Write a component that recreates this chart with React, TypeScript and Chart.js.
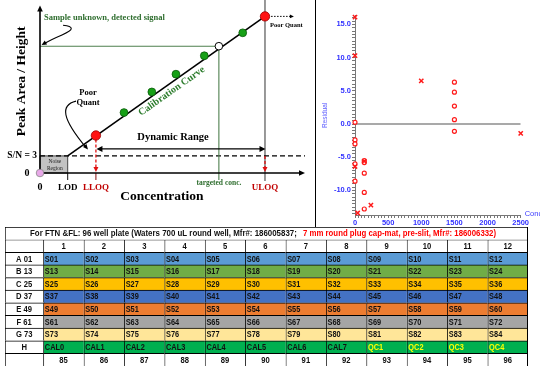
import React, { useEffect, useRef } from 'react';
import { Chart, registerables } from 'chart.js';
Chart.register(...registerables);

// ---------------- Calibration diagram (schematic units 0..100) ----------------
const calConc = [21.1, 31.7, 42.2, 51.3, 62.0, 76.5, 84.9];
const calSignal = [22.4, 36.1, 48.4, 59.0, 70.0, 83.7, 93.5];
const calRole = ['LLOQ', 'cal', 'cal', 'cal', 'cal', 'cal', 'ULOQ'];
const unknownConc = 67.5;
const unknownSignal = 75.7;
const lodConc = 10.45;
const snSignal = 10.2;
const dynRangeSignal = 14.4;

// ---------------- Residual plot ----------------
const residCrossConc = [0, 0, 1000, 2500, 0, 140, 240, 40];
const residCrossVal = [16.1, 10.3, 6.5, -1.4, -6.4, -5.6, -12.2, -13.4];
const residCircleConc = [0, 0, 0, 0, 0, 140, 140, 140, 140, 140, 1500, 1500, 1500, 1500, 1500];
const residCircleVal = [0.25, -2.4, -3.0, -6.0, -8.6, -5.5, -5.8, -7.4, -10.3, -12.8, 6.3, 4.8, 2.7, 0.65, -1.1];
const residXMin = 0;
const residXMax = 2500;
const residYMin = -13.7;
const residYMax = 16.3;
const residYLabelStep = 5;
const residYMinorStep = 0.5;

// ---------------- Plate table ----------------
const plateTitleA = 'For FTN &FL: 96 well plate (Waters 700 uL round well, Mfr#: 186005837; ';
const plateTitleB = '7 mm round plug cap-mat, pre-slit, Mfr#: 186006332)';
const plateColumns = ['1', '2', '3', '4', '5', '6', '7', '8', '9', '10', '11', '12'];
const plateRowLabels = ['A 01', 'B 13', 'C 25', 'D 37', 'E 49', 'F 61', 'G 73', 'H'];
const rowA = ['S01', 'S02', 'S03', 'S04', 'S05', 'S06', 'S07', 'S08', 'S09', 'S10', 'S11', 'S12'];
const rowB = ['S13', 'S14', 'S15', 'S16', 'S17', 'S18', 'S19', 'S20', 'S21', 'S22', 'S23', 'S24'];
const rowC = ['S25', 'S26', 'S27', 'S28', 'S29', 'S30', 'S31', 'S32', 'S33', 'S34', 'S35', 'S36'];
const rowD = ['S37', 'S38', 'S39', 'S40', 'S41', 'S42', 'S43', 'S44', 'S45', 'S46', 'S47', 'S48'];
const rowE = ['S49', 'S50', 'S51', 'S52', 'S53', 'S54', 'S55', 'S56', 'S57', 'S58', 'S59', 'S60'];
const rowF = ['S61', 'S62', 'S63', 'S64', 'S65', 'S66', 'S67', 'S68', 'S69', 'S70', 'S71', 'S72'];
const rowG = ['S73', 'S74', 'S75', 'S76', 'S77', 'S78', 'S79', 'S80', 'S81', 'S82', 'S83', 'S84'];
const rowH = ['CAL0', 'CAL1', 'CAL2', 'CAL3', 'CAL4', 'CAL5', 'CAL6', 'CAL7', 'QC1', 'QC2', 'QC3', 'QC4'];
const plateFooter = ['85', '86', '87', '88', '89', '90', '91', '92', '93', '94', '95', '96'];
const plateRowColors = ['#5b9bd5', '#70ad47', '#ffc000', '#4472c4', '#ed7d31', '#a5a5a5', '#ffe699', '#00b050'];
const plateCells = [rowA, rowB, rowC, rowD, rowE, rowF, rowG, rowH];

const SERIF = '"Liberation Serif", "DejaVu Serif", serif';
const SANS = '"Liberation Sans", Arial, sans-serif';
const f = (size: number, bold = true, fam = SERIF) => `${bold ? 'bold ' : ''}${size}px ${fam}`;

function arrowHead(ctx: any, x: number, y: number, ang: number, len = 6, half = 2.8) {
  ctx.beginPath();
  ctx.moveTo(x, y);
  ctx.lineTo(x - len * Math.cos(ang) + half * Math.sin(ang), y - len * Math.sin(ang) - half * Math.cos(ang));
  ctx.lineTo(x - len * Math.cos(ang) - half * Math.sin(ang), y - len * Math.sin(ang) + half * Math.cos(ang));
  ctx.closePath();
  ctx.fill();
}

function line(ctx: any, x1: number, y1: number, x2: number, y2: number) {
  ctx.beginPath();
  ctx.moveTo(x1, y1);
  ctx.lineTo(x2, y2);
  ctx.stroke();
}

function text(ctx: any, s: string, x: number, y: number, font: string, color: string, align = 'center', rot = 0) {
  ctx.save();
  ctx.translate(x, y);
  if (rot) ctx.rotate(rot);
  ctx.font = font;
  ctx.fillStyle = color;
  ctx.textAlign = align;
  ctx.textBaseline = 'middle';
  ctx.fillText(s, 0, 0);
  ctx.restore();
}

const leftDecor = {
  id: 'leftDecor',
  beforeDatasetsDraw(chart: any) {
    const { ctx, scales } = chart;
    const X = (v: number) => scales.x.getPixelForValue(v);
    const Y = (v: number) => scales.y.getPixelForValue(v);
    const x0 = X(0), y0 = Y(0);
    ctx.save();
    // frame separator
    ctx.strokeStyle = '#000';
    ctx.lineWidth = 1;
    line(ctx, 315.5, 0, 315.5, chart.height);
    // noise region
    ctx.fillStyle = '#c2c2c2';
    ctx.fillRect(x0, Y(snSignal), X(lodConc) - x0, y0 - Y(snSignal));
    ctx.strokeStyle = '#444';
    ctx.strokeRect(x0, Y(snSignal), X(lodConc) - x0, y0 - Y(snSignal));
    text(ctx, 'Noise', X(lodConc / 2) + 1, Y(snSignal) + 5.5, f(5.5, false), '#222');
    text(ctx, 'Region', X(lodConc / 2) + 1, Y(snSignal) + 13, f(5.5, false), '#222');
    // ULOQ vertical line
    ctx.strokeStyle = '#333';
    ctx.lineWidth = 1;
    line(ctx, X(calConc[6]), 0, X(calConc[6]), y0 + 8);
    // S/N dashed line
    ctx.strokeStyle = '#000';
    ctx.lineWidth = 1.3;
    ctx.setLineDash([5, 3]);
    line(ctx, x0, Y(snSignal), X(100), Y(snSignal));
    ctx.setLineDash([]);
    // targeted lines
    ctx.strokeStyle = '#4e7f4e';
    ctx.lineWidth = 1.1;
    line(ctx, x0, Y(unknownSignal), X(unknownConc), Y(unknownSignal));
    line(ctx, X(unknownConc), Y(unknownSignal), X(unknownConc), y0 + 7);
    // ticks below axis
    ctx.strokeStyle = '#111';
    ctx.lineWidth = 1;
    line(ctx, X(lodConc), y0, X(lodConc), y0 + 7);
    ctx.strokeStyle = '#8a1010';
    line(ctx, X(calConc[0]), y0, X(calConc[0]), y0 + 7);
    // red dashed arrows
    ctx.strokeStyle = '#e01010';
    ctx.fillStyle = '#e01010';
    ctx.lineWidth = 1.3;
    ctx.setLineDash([3, 2]);
    line(ctx, X(calConc[0]), Y(calSignal[0]) + 4, X(calConc[0]), y0 - 4);
    line(ctx, X(calConc[6]), Y(snSignal), X(calConc[6]), y0 - 4);
    ctx.setLineDash([]);
    arrowHead(ctx, X(calConc[0]), y0 - 1, Math.PI / 2, 5, 2.5);
    arrowHead(ctx, X(calConc[6]), y0 - 1, Math.PI / 2, 5, 2.5);
    // axes
    ctx.strokeStyle = '#000';
    ctx.fillStyle = '#000';
    ctx.lineWidth = 1.6;
    line(ctx, x0, y0, X(100) - 3, y0);
    line(ctx, x0, y0, x0, Y(100) + 3);
    arrowHead(ctx, X(100), y0, 0, 6, 2.8);
    arrowHead(ctx, x0, Y(100), -Math.PI / 2, 6, 2.8);
    // dynamic range double arrow
    ctx.lineWidth = 1.3;
    const dy = Y(dynRangeSignal);
    line(ctx, X(calConc[0]) + 4, dy, X(calConc[6]) - 4, dy);
    arrowHead(ctx, X(calConc[0]) + 0.5, dy, Math.PI, 6, 3);
    arrowHead(ctx, X(calConc[6]) + 0.5, dy, 0, 6, 3);
    ctx.restore();
  },
  afterDatasetsDraw(chart: any) {
    const { ctx, scales } = chart;
    const X = (v: number) => scales.x.getPixelForValue(v);
    const Y = (v: number) => scales.y.getPixelForValue(v);
    const x0 = X(0), y0 = Y(0);
    ctx.save();
    const green = '#2f6e2f';
    const dred = '#c00000';
    // text labels
    text(ctx, 'Sample unknown, detected signal', X(1.5), Y(92.9), f(8.5), green, 'left');
    text(ctx, 'S/N = 3', x0 - 3, Y(snSignal), f(9.5), '#000', 'right');
    text(ctx, '0', x0 - 13, y0, f(10), '#000');
    text(ctx, '0', x0, y0 + 14, f(10), '#000');
    text(ctx, 'LOD', X(lodConc), y0 + 15, f(9), '#000');
    text(ctx, 'LLOQ', X(calConc[0]), y0 + 15, f(9), dred);
    text(ctx, 'ULOQ', X(calConc[6]), y0 + 15, f(9), dred);
    text(ctx, 'targeted conc.', X(unknownConc), y0 + 10, f(7.5), green);
    text(ctx, 'Concentration', X(46), Y(-14.1), f(13.5), '#000');
    text(ctx, 'Peak Area / Height', X(-6.8), Y(54.7), f(13.5), '#000', 'center', -Math.PI / 2);
    text(ctx, 'Dynamic Range', X(50.2), Y(21.2), f(10.5), '#000');
    const ang = Math.atan2(Y(calSignal[6]) - Y(snSignal), X(calConc[6]) - X(lodConc));
    text(ctx, 'Calibration Curve', X(49.7), Y(48.8), f(10), '#2e7d2e', 'center', ang);
    text(ctx, 'Poor', X(18.1), Y(47.6), f(8.5), '#000');
    text(ctx, 'Quant', X(18.1), Y(41.8), f(8.5), '#000');
    text(ctx, 'Poor Quant', X(86.8), Y(88.2), f(6.5), '#000', 'left');
    // dotted arrow from top point
    ctx.strokeStyle = '#000';
    ctx.fillStyle = '#000';
    ctx.lineWidth = 1;
    ctx.setLineDash([1.5, 1.5]);
    line(ctx, X(87.2), Y(calSignal[6]), X(95.8) - 3, Y(calSignal[6]));
    ctx.setLineDash([]);
    arrowHead(ctx, X(95.8), Y(calSignal[6]), 0, 4, 1.8);
    // curvy arrow from sample text
    ctx.lineWidth = 1.1;
    ctx.beginPath();
    ctx.moveTo(X(8.7), Y(88.2));
    ctx.quadraticCurveTo(X(15.1), Y(87.1), X(8.3), Y(82.4));
    ctx.quadraticCurveTo(X(3.8), Y(79.4), X(1.4), Y(77.0));
    ctx.stroke();
    arrowHead(ctx, X(0.6), Y(76.4), Math.atan2(Y(76.4) - Y(79.4), X(0.6) - X(3.8)), 5, 2.3);
    // curvy arrow from Poor Quant
    ctx.beginPath();
    ctx.moveTo(X(13.6), Y(42.9));
    ctx.bezierCurveTo(X(7.5), Y(40.6), X(8.3), Y(32.4), X(17.3), Y(15.3));
    ctx.stroke();
    arrowHead(ctx, X(18.1), Y(14.1), Math.atan2(Y(14.1) - Y(32.4), X(18.1) - X(8.3)), 5, 2.3);
    ctx.restore();
  },
};

function makeLeft() {
  return {
    type: 'scatter',
    data: {
      datasets: [
        {
          type: 'line',
          data: [{ x: lodConc, y: snSignal }, { x: calConc[6], y: calSignal[6] }],
          borderColor: '#000',
          borderWidth: 1.6,
          pointRadius: 0,
          order: 5,
          clip: false,
        },
        {
          data: calConc.map((x, i) => ({ x, y: calSignal[i] })),
          pointRadius: calRole.map((r) => (r === 'cal' ? 3.9 : 4.7)),
          pointBackgroundColor: calRole.map((r) => (r === 'cal' ? '#16a016' : '#ff1212')),
          pointBorderColor: calRole.map((r) => (r === 'cal' ? '#0a5a0a' : '#9a0000')),
          pointBorderWidth: 0.8,
          order: 1,
          clip: false,
        },
        {
          data: [{ x: unknownConc, y: unknownSignal }],
          pointRadius: 3.8,
          pointBackgroundColor: '#ffffff',
          pointBorderColor: '#000',
          pointBorderWidth: 1,
          order: 1,
          clip: false,
        },
        {
          data: [{ x: 0, y: 0 }],
          pointRadius: 3.8,
          pointBackgroundColor: '#e8a8e8',
          pointBorderColor: '#888',
          pointBorderWidth: 0.8,
          order: 1,
          clip: false,
        },
      ],
    },
    options: {
      animation: false,
      responsive: false,
      events: [],
      layout: { padding: { left: 40, right: 11, top: 3, bottom: 54 } },
      scales: {
        x: { type: 'linear', min: 0, max: 100, display: false },
        y: { type: 'linear', min: 0, max: 100, display: false },
      },
      plugins: { legend: { display: false }, tooltip: { enabled: false } },
    },
    plugins: [leftDecor],
  };
}

const residDecor = {
  id: 'residDecor',
  afterDraw(chart: any) {
    const { ctx, chartArea } = chart;
    text(ctx, 'Residual', 9, (chartArea.top + chartArea.bottom) / 2, f(6.5, false, SANS), '#5a5aff', 'center', -Math.PI / 2);
    text(ctx, 'Conc', chartArea.right + 4, chartArea.bottom - 1, f(7.5, false, SANS), '#3a3aff', 'left');
  },
};

function makeResid() {
  const tickColor = '#3232ff';
  return {
    type: 'scatter',
    data: {
      datasets: [
        {
          data: [{ x: residXMin, y: 0 }, { x: residXMax, y: 0 }],
          showLine: true,
          borderColor: '#8c8c8c',
          borderWidth: 1.5,
          pointRadius: 0,
          order: 5,
        },
        {
          data: residCircleConc.map((x, i) => ({ x, y: residCircleVal[i] })),
          pointStyle: 'circle',
          pointRadius: 2,
          pointBackgroundColor: '#ffffff',
          pointBorderColor: '#ff1a1a',
          pointBorderWidth: 1.2,
          order: 2,
          clip: false,
        },
        {
          data: residCrossConc.map((x, i) => ({ x, y: residCrossVal[i] })),
          pointStyle: 'crossRot',
          pointRadius: 3,
          pointBorderColor: '#ff1a1a',
          pointBorderWidth: 1.5,
          order: 1,
          clip: false,
        },
      ],
    },
    options: {
      animation: false,
      responsive: false,
      events: [],
      layout: { padding: { left: 0, right: 19.3, top: 15.8, bottom: 0 } },
      scales: {
        x: {
          type: 'linear',
          min: residXMin,
          max: residXMax,
          afterFit: (s: any) => { s.height = 11; },
          ticks: {
            stepSize: 50,
            autoSkip: false,
            maxRotation: 0,
            includeBounds: false,
            padding: 0,
            color: tickColor,
            font: { size: 7.5, weight: 'bold', family: SANS },
            callback: (v: number) => (Math.round(v) % 500 === 0 ? String(Math.round(v)) : ''),
          },
          grid: { drawOnChartArea: false, tickLength: 3, color: '#777' },
          border: { color: '#777' },
        },
        y: {
          type: 'linear',
          min: residYMin,
          max: residYMax,
          afterFit: (s: any) => { s.width = 39; },
          afterBuildTicks: (s: any) => {
            const t: any[] = [];
            for (let v = Math.ceil(residYMin / residYMinorStep) * residYMinorStep; v <= residYMax + 1e-9; v += residYMinorStep) {
              t.push({ value: Math.round(v * 10) / 10 });
            }
            s.ticks = t;
          },
          ticks: {
            autoSkip: false,
            includeBounds: false,
            padding: 1,
            color: tickColor,
            font: { size: 7.5, weight: 'bold', family: SANS },
            callback: (v: number) => {
              const r = Math.round(v * 10) / 10;
              return Math.abs(r % residYLabelStep) < 1e-6 ? r.toFixed(1) : '';
            },
          },
          grid: { drawOnChartArea: false, tickLength: 3, color: '#777' },
          border: { color: '#777' },
        },
      },
      plugins: { legend: { display: false }, tooltip: { enabled: false } },
    },
    plugins: [residDecor],
  };
}

// ---------------- table as floating bars ----------------
const tableRows = ['title', 'header', ...plateRowLabels, 'footer'];
const LABEL_START = -0.95;

function condensed(ctx: any, s: string, x: number, y: number, font: string, color: string, align: string, sx = 0.8) {
  ctx.save();
  ctx.font = font;
  ctx.fillStyle = color;
  ctx.textBaseline = 'middle';
  ctx.textAlign = 'left';
  const w = ctx.measureText(s).width * sx;
  let left = x;
  if (align === 'center') left = x - w / 2;
  ctx.translate(left, y);
  ctx.scale(sx, 1);
  ctx.fillText(s, 0, 0.5);
  ctx.restore();
}

const tableText = {
  id: 'tableText',
  afterDatasetsDraw(chart: any) {
    const { ctx, scales, chartArea } = chart;
    const X = (v: number) => scales.x.getPixelForValue(v);
    const R = (i: number) => scales.y.getPixelForValue(i);
    ctx.save();
    ctx.strokeStyle = '#000';
    ctx.lineWidth = 1;
    line(ctx, X(12) - 0.5, chartArea.top, X(12) - 0.5, chartArea.bottom);
    const bold = f(9, true, SANS);
    // title
    ctx.font = f(9, true, SANS);
    ctx.textBaseline = 'middle';
    ctx.textAlign = 'left';
    ctx.fillStyle = '#111';
    ctx.fillText(plateTitleA, X(LABEL_START) + 25, R(0) + 0.5, 269);
    ctx.fillStyle = '#ff0000';
    ctx.fillText(plateTitleB, X(LABEL_START) + 298, R(0) + 0.5, 193);
    // header & footer
    plateColumns.forEach((c, j) => condensed(ctx, c, X(j + 0.5), R(1), bold, '#111', 'center', 0.85));
    plateFooter.forEach((c, j) => condensed(ctx, c, X(j + 0.5), R(10), bold, '#111', 'center', 0.85));
    // rows
    plateRowLabels.forEach((lab, i) => {
      condensed(ctx, lab, X(LABEL_START / 2), R(i + 2), bold, '#111', 'center', 0.85);
      plateCells[i].forEach((cell, j) => {
        const isQC = cell.startsWith('QC');
        condensed(ctx, cell, X(j) + 1.5, R(i + 2), bold, isQC ? '#ffff00' : '#111', 'left', 0.82);
      });
    });
    ctx.restore();
  },
};

function makeTable() {
  const common = {
    borderColor: '#000',
    borderWidth: { top: 1, left: 1, right: 0, bottom: 0 },
    borderSkipped: false,
    grouped: false,
    barPercentage: 1,
    categoryPercentage: 1,
  };
  const datasets: any[] = [
    { ...common, data: tableRows.map((_, i) => (i === 0 ? [LABEL_START, 12] : null)), backgroundColor: '#fff' },
    { ...common, data: tableRows.map((_, i) => (i === 0 ? null : [LABEL_START, 0])), backgroundColor: '#fff' },
  ];
  plateColumns.forEach((_, j) => {
    datasets.push({
      ...common,
      data: tableRows.map((_, i) => (i === 0 ? null : [j, j + 1])),
      backgroundColor: tableRows.map((_, i) => (i >= 2 && i <= 9 ? plateRowColors[i - 2] : '#fff')),
    });
  });
  return {
    type: 'bar',
    data: { labels: tableRows, datasets },
    options: {
      animation: false,
      responsive: false,
      events: [],
      indexAxis: 'y',
      layout: { padding: { left: 5, right: 12, top: 1, bottom: 0 } },
      scales: {
        x: { type: 'linear', min: LABEL_START, max: 12, display: false },
        y: { type: 'category', display: false },
      },
      plugins: { legend: { display: false }, tooltip: { enabled: false } },
    },
    plugins: [tableText],
  };
}

function ChartCanvas({ make, w, h, left, top }: any) {
  const ref = useRef<HTMLCanvasElement>(null);
  useEffect(() => {
    const chart = new Chart(ref.current as any, make());
    return () => chart.destroy();
  }, []);
  return (
    <canvas
      ref={ref}
      width={w}
      height={h}
      style={{ position: 'absolute', left, top, width: w, height: h }}
    />
  );
}

export default function App() {
  return (
    <div style={{ position: 'absolute', left: 0, top: 0, width: 540, height: 366, background: '#fff', overflow: 'hidden' }}>
      <ChartCanvas make={makeLeft} w={316} h={227} left={0} top={0} />
      <ChartCanvas make={makeResid} w={224} h={226} left={316} top={0} />
      <ChartCanvas make={makeTable} w={540} h={140} left={0} top={226} />
    </div>
  );
}
